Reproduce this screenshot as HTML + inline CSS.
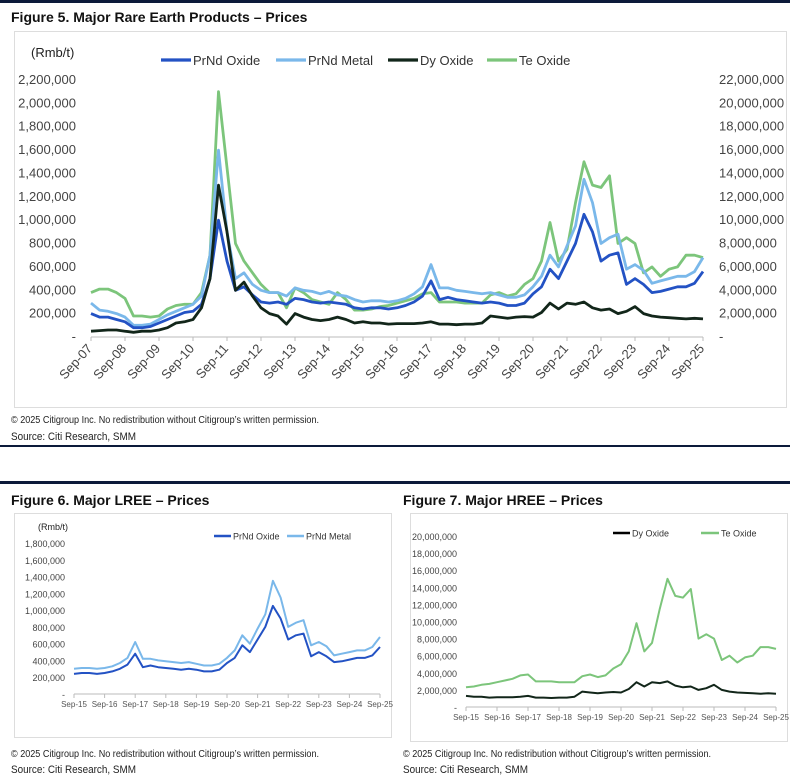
<!DOCTYPE html>
<html><head><meta charset="utf-8"><style>
body{margin:0;background:#fff;width:800px;height:775px;overflow:hidden;}
svg{display:block;font-family:"Liberation Sans Narrow","Liberation Sans",sans-serif;}
</style></head><body>
<svg id="page" width="800" height="775" viewBox="0 0 800 775" xmlns="http://www.w3.org/2000/svg">
<rect x="0" y="0" width="790" height="3" fill="#0c1a3a"/>
<text x="11" y="22" font-size="14" font-weight="bold" fill="#111" font-family="Liberation Sans,sans-serif">Figure 5. Major Rare Earth Products – Prices</text>
<rect x="14.5" y="31.5" width="772" height="376" fill="#fff" stroke="#ddd"/>
<g id="c1"></g>
<text x="11" y="423" font-size="10" fill="#222" textLength="308" lengthAdjust="spacingAndGlyphs">© 2025 Citigroup Inc. No redistribution without Citigroup’s written permission.</text>
<text x="11" y="440" font-size="11" fill="#222" textLength="125" lengthAdjust="spacingAndGlyphs">Source: Citi Research, SMM</text>
<rect x="0" y="445" width="790" height="2" fill="#0c1a3a"/>
<rect x="0" y="481" width="790" height="3" fill="#0c1a3a"/>
<text x="11" y="505" font-size="14" font-weight="bold" fill="#111" font-family="Liberation Sans,sans-serif">Figure 6. Major LREE – Prices</text>
<text x="403" y="505" font-size="14" font-weight="bold" fill="#111" font-family="Liberation Sans,sans-serif">Figure 7. Major HREE – Prices</text>
<rect x="14.5" y="513.5" width="377" height="224" fill="#fff" stroke="#ddd"/>
<rect x="410.5" y="513.5" width="377" height="228" fill="#fff" stroke="#ddd"/>
<g id="c2"></g>
<g id="c3"></g>
<text x="11" y="757" font-size="10" fill="#222" textLength="308" lengthAdjust="spacingAndGlyphs">© 2025 Citigroup Inc. No redistribution without Citigroup’s written permission.</text>
<text x="11" y="773" font-size="11" fill="#222" textLength="125" lengthAdjust="spacingAndGlyphs">Source: Citi Research, SMM</text>
<text x="403" y="757" font-size="10" fill="#222" textLength="308" lengthAdjust="spacingAndGlyphs">© 2025 Citigroup Inc. No redistribution without Citigroup’s written permission.</text>
<text x="403" y="773" font-size="11" fill="#222" textLength="125" lengthAdjust="spacingAndGlyphs">Source: Citi Research, SMM</text>
</svg>
<script>
// Quarterly observations Sep-07 .. Sep-25 (73 points)
const yearLabels = ["Sep-07","Sep-08","Sep-09","Sep-10","Sep-11","Sep-12","Sep-13","Sep-14","Sep-15","Sep-16","Sep-17","Sep-18","Sep-19","Sep-20","Sep-21","Sep-22","Sep-23","Sep-24","Sep-25"];
// PrNd, thousand Rmb/t
const prndOxide = [200,170,170,150,130,80,80,90,120,150,180,210,220,280,500,1000,650,400,430,360,300,290,300,280,330,320,300,290,300,290,280,250,240,250,250,240,250,270,300,350,480,320,340,320,310,300,290,300,290,270,270,290,370,430,580,500,650,800,1050,900,650,700,720,450,500,450,380,390,410,430,430,460,560];
const prndMetal = [290,230,220,200,170,100,100,110,150,190,220,250,280,350,700,1600,900,500,550,450,400,380,380,350,420,400,390,370,390,360,350,320,300,310,310,300,310,330,370,430,620,420,420,400,390,380,370,380,360,340,340,360,430,520,700,600,780,950,1350,1150,800,850,880,580,620,570,460,480,500,520,520,560,680];
// Dy and Te, units of 10,000 Rmb/t (right axis)
const dyOxide = [50,55,60,60,50,40,50,50,60,80,120,130,150,250,500,1300,900,400,470,350,250,200,180,110,200,170,150,140,150,170,150,120,130,120,120,110,115,115,115,120,130,110,110,105,110,110,120,180,170,160,170,175,170,210,290,240,290,280,300,250,230,240,200,220,260,200,180,170,165,160,155,160,155];
const teOxide = [380,410,410,380,330,180,180,170,180,240,270,280,280,380,700,2100,1450,800,650,550,450,380,380,250,420,380,320,300,280,380,320,230,230,240,260,270,290,310,330,370,380,300,300,300,290,290,290,360,380,350,370,450,500,650,980,650,750,1150,1500,1300,1280,1380,800,850,800,550,600,520,580,600,700,700,680];
const leftTicks1 = ["-","200,000","400,000","600,000","800,000","1,000,000","1,200,000","1,400,000","1,600,000","1,800,000","2,000,000","2,200,000"];
const rightTicks1 = ["-","2,000,000","4,000,000","6,000,000","8,000,000","10,000,000","12,000,000","14,000,000","16,000,000","18,000,000","20,000,000","22,000,000"];
const leftTicks2 = ["-","200,000","400,000","600,000","800,000","1,000,000","1,200,000","1,400,000","1,600,000","1,800,000"];
const leftTicks3 = ["-","2,000,000","4,000,000","6,000,000","8,000,000","10,000,000","12,000,000","14,000,000","16,000,000","18,000,000","20,000,000"];

const NS="http://www.w3.org/2000/svg";
function mk(parent,tag,attrs){const e=document.createElementNS(NS,tag);for(const k in attrs)e.setAttribute(k,attrs[k]);parent.appendChild(e);return e;}
const COL={ox:"#2352c4",me:"#7ab8ea",dy:"#12261a",te:"#7cc57b"};

function chart(g,o){
  const x=i=>o.x0+(i-o.start)/(o.n-1)*(o.x1-o.x0);
  const y=v=>o.y0-v/o.ymax*(o.y0-o.yTop);
  const ax=mk(g,"line",{x1:o.x0,x2:o.x1,y1:o.y0,y2:o.y0,stroke:"#bbb","stroke-width":1});
  
  
  const labs=o.labels;
  labs.forEach((t,k)=>{
    const tx=o.x0+k*(o.x1-o.x0)/(labs.length-1);
    const tk=mk(g,"line",{x1:tx,x2:tx,y1:o.y0,y2:o.y0+4,stroke:"#bbb"});
    
    
    let tl;
    if(o.rot){tl=mk(g,"text",{x:tx+2,y:o.y0+12,"font-size":o.fs,"text-anchor":"end",fill:"#444",transform:`rotate(-48 ${tx+2} ${o.y0+12})`});}
    else{tl=mk(g,"text",{x:tx,y:o.y0+o.lblDy,"font-size":o.fs-1,"text-anchor":"middle",fill:"#555"});}
    tl.textContent=t;
    
    
  });
  o.leftTicks.forEach((t,k)=>{
    const l=mk(g,"text",{x:o.lx,y:o.y0-k*(o.y0-o.yTop)/(o.leftTicks.length-1)+4,"font-size":o.fs,"text-anchor":"end",fill:"#444"});
    l.textContent=t;
    
    
  });
  if(o.rightTicks)o.rightTicks.forEach((t,k)=>{
    const l=mk(g,"text",{x:o.rx,y:o.y0-k*(o.y0-o.yTop)/(o.rightTicks.length-1)+4,"font-size":o.fs,"text-anchor":"start",fill:"#444"});
    l.textContent=t;
    
    
  });
  o.series.forEach(s=>{
    const yy=s.right?(v=>o.y0-v/o.rmax*(o.y0-o.yTop)):y;
    let d="";for(let i=o.start;i<s.data.length;i++){d+=(i===o.start?"M":"L")+x(i).toFixed(1)+","+yy(s.data[i]).toFixed(1);}
    const p=mk(g,"path",{d:d,fill:"none",stroke:s.c,"stroke-width":o.sw,"stroke-linejoin":"round"});
    
    
  });
  o.legend.forEach(L=>{
    const ln=mk(g,"line",{x1:L.x,x2:L.x+L.w,y1:L.y,y2:L.y,stroke:L.c,"stroke-width":o.sw+0.5});
    
    
    const t=mk(g,"text",{x:L.x+L.w+2,y:L.y+o.fs*0.38,"font-size":o.fs,fill:"#333"});
    t.textContent=L.t;
    
    
  });
  const u=mk(g,"text",{x:o.ux,y:o.uy,"font-size":o.fs,fill:"#222"});
  u.textContent="(Rmb/t)";
  
  
}
chart(document.getElementById("c1"),{x0:91,x1:703,y0:337,yTop:80,ymax:2200,rmax:2200,start:0,n:73,labels:yearLabels,rot:true,fs:13,sw:2.8,lx:76,rx:719,
  leftTicks:leftTicks1,rightTicks:rightTicks1,ux:31,uy:57,
  series:[{data:teOxide,c:COL.te,right:true,name:"te-oxide-line"},{data:prndMetal,c:COL.me,name:"prnd-metal-line"},{data:prndOxide,c:COL.ox,name:"prnd-oxide-line"},{data:dyOxide,c:COL.dy,right:true,name:"dy-oxide-line"}],
  legend:[{x:161,y:60,w:30,c:COL.ox,t:"PrNd Oxide"},{x:276,y:60,w:30,c:COL.me,t:"PrNd Metal"},{x:388,y:60,w:30,c:COL.dy,t:"Dy Oxide"},{x:487,y:60,w:30,c:COL.te,t:"Te Oxide"}]});
const lr=yearLabels.slice(8);
chart(document.getElementById("c2"),{x0:74,x1:380,y0:694,yTop:543,ymax:1800,start:32,n:41,labels:lr,rot:false,lblDy:13,fs:9,sw:2,lx:65,
  leftTicks:leftTicks2,ux:38,uy:530,
  series:[{data:prndMetal,c:COL.me,name:"prnd-metal-line"},{data:prndOxide,c:COL.ox,name:"prnd-oxide-line"}],
  legend:[{x:214,y:536,w:17,c:COL.ox,t:"PrNd Oxide"},{x:287,y:536,w:17,c:COL.me,t:"PrNd Metal"}]});
chart(document.getElementById("c3"),{x0:466,x1:776,y0:707,yTop:536,ymax:2000,start:32,n:41,labels:lr,rot:false,lblDy:13,fs:9,sw:2,lx:457,
  leftTicks:leftTicks3,ux:-100,uy:-100,
  series:[{data:teOxide,c:COL.te,name:"te-oxide-line"},{data:dyOxide,c:COL.dy,name:"dy-oxide-line"}],
  legend:[{x:613,y:533,w:17,c:"#000",t:"Dy Oxide"},{x:701,y:533,w:18,c:COL.te,t:"Te Oxide"}]});
</script>
</body></html>
